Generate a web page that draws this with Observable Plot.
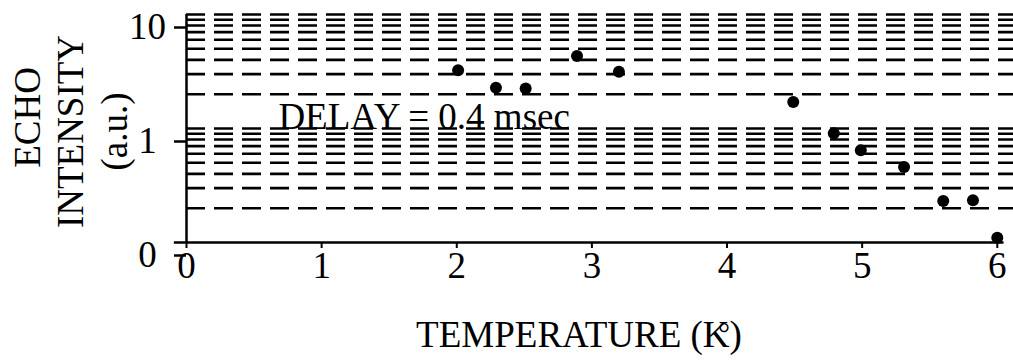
<!DOCTYPE html>
<html>
<head>
<meta charset="utf-8">
<script src="https://cdn.jsdelivr.net/npm/d3@7"></script>
<script src="https://cdn.jsdelivr.net/npm/@observablehq/plot@0.6"></script>
<style>
  html, body { margin: 0; padding: 0; background: #fff; }
</style>
</head>
<body>
<div id="chart"></div>
<script>
// Data
const temperature = [2.01, 2.29, 2.51, 2.89, 3.20, 4.49, 4.79, 4.99, 5.31, 5.60, 5.82, 6.00];
const intensity   = [3.24, 2.28, 2.24, 4.32, 3.15, 1.71, 0.908, 0.644, 0.459, 0.231, 0.235, 0.110];

const xTicks = [0, 1, 2, 3, 4, 5, 6];
const yTicks = [0.1, 1, 10];
const yTickLabels = ["0", "1", "10"];
const gridValues = [0.2, 0.3, 0.4, 0.5, 0.6, 0.7, 0.8, 0.9, 1, 2, 3, 4, 5, 6, 7, 8, 9, 10];

const annotation = "DELAY = 0.4 msec";
const xTitle = "TEMPERATURE (K)";
const degreeMark = "°";
const yTitleFirst = "ECHO";
const yTitleRest = "INTENSITY\n(a.u.)";

const points = temperature.map((t, i) => ({t, v: intensity[i]}));
const font = "'Liberation Serif', 'Times New Roman', serif";

const chart = Plot.plot({
  width: 1013,
  height: 362,
  marginLeft: 186,
  marginRight: 0,
  marginTop: 14,
  marginBottom: 120,
  x: {domain: [0, 6.12]},
  y: {type: "log", domain: [0.1, 10]},
  style: {fontFamily: font, fontSize: "36px", background: "white", color: "black"},
  marks: [
    Plot.ruleY(gridValues, {strokeDasharray: "19,9", strokeWidth: 2.6, stroke: "black"}),
    Plot.ruleX([0], {strokeWidth: 2.5, stroke: "black"}),
    Plot.ruleY([0.1], {x1: -0.09, x2: 6.05, strokeWidth: 2.5, stroke: "black"}),
    Plot.axisY({
      ticks: yTicks,
      tickFormat: d => yTickLabels[yTicks.indexOf(d)],
      tickSize: 12, tickPadding: 27, textAnchor: "middle", dy: 13,
      fontSize: 37, strokeWidth: 2.5, label: null
    }),
    Plot.axisX({
      ticks: xTicks, tickFormat: d => String(d),
      tickSize: 6, tickPadding: 3, fontSize: 37, strokeWidth: 2, label: null
    }),
    Plot.dot(points, {x: "t", y: "v", r: 6, fill: "black", stroke: null}),
    Plot.text([annotation], {x: 0.68, y: 1, text: d => d, textAnchor: "start", lineAnchor: "bottom", fontSize: 37, fill: "black"}),
    Plot.text([yTitleFirst], {frameAnchor: "left", text: d => d, rotate: -90, textAnchor: "middle", dx: -158, dy: -11, fontSize: 37, fill: "black"}),
    Plot.text([yTitleRest], {frameAnchor: "left", text: d => d, rotate: -90, textAnchor: "middle", dx: -96, dy: 3, lineHeight: 1.19, fontSize: 37, fill: "black"}),
    Plot.text([xTitle], {frameAnchor: "bottom", text: d => d, textAnchor: "middle", dx: -21, dy: 93, lineAnchor: "middle", fontSize: 37, fill: "black"}),
    Plot.text([degreeMark], {frameAnchor: "bottom", text: d => d, textAnchor: "middle", dx: 124, dy: 91, lineAnchor: "middle", fontSize: 30, fill: "black"})
  ]
});
document.getElementById("chart").appendChild(chart);
</script>
</body>
</html>
